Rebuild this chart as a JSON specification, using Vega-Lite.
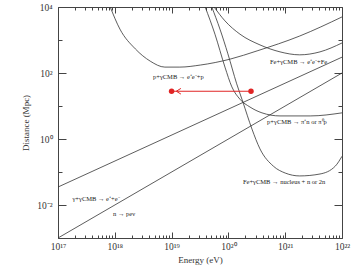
{
  "$schema": "https://vega.github.io/schema/vega-lite/v6.json",
  "width": 284,
  "height": 231,
  "autosize": "none",
  "padding": {"left": 58, "top": 7, "right": 12, "bottom": 27},
  "config": {
    "view": {"stroke": "#444", "strokeWidth": 1},
    "font": "Liberation Serif",
    "axis": {"labelFont": "Liberation Serif", "titleFont": "Liberation Serif", "titleFontWeight": "normal", "labelColor": "#333", "titleColor": "#333", "tickColor": "#444", "domain": false, "grid": false, "labelOverlap": false, "labelBound": false, "labelFlush": false}
  },
  "datasets": {
    "curves": [
      {"s": "p_ee", "E": 8.3e17, "D": 10000},
      {"s": "p_ee", "E": 1.23e18, "D": 2140},
      {"s": "p_ee", "E": 2.3e18, "D": 537},
      {"s": "p_ee", "E": 4.2e18, "D": 229},
      {"s": "p_ee", "E": 7.6e18, "D": 151},
      {"s": "p_ee", "E": 1.4e19, "D": 151},
      {"s": "p_ee", "E": 3.2e19, "D": 174},
      {"s": "p_ee", "E": 1.07e20, "D": 263},
      {"s": "p_ee", "E": 3.2e20, "D": 468},
      {"s": "p_ee", "E": 1.8e21, "D": 1320},
      {"s": "p_ee", "E": 1e22, "D": 5000},
      {"s": "fe_ee", "E": 5.6e19, "D": 10000},
      {"s": "fe_ee", "E": 8.7e19, "D": 3800},
      {"s": "fe_ee", "E": 1.6e20, "D": 1500},
      {"s": "fe_ee", "E": 3.6e20, "D": 710},
      {"s": "fe_ee", "E": 8.1e20, "D": 437},
      {"s": "fe_ee", "E": 1.8e21, "D": 355},
      {"s": "fe_ee", "E": 4.1e21, "D": 437},
      {"s": "fe_ee", "E": 1e22, "D": 813},
      {"s": "p_pi", "E": 3.9e19, "D": 10000},
      {"s": "p_pi", "E": 5.8e19, "D": 1500},
      {"s": "p_pi", "E": 8.7e19, "D": 151},
      {"s": "p_pi", "E": 1.15e20, "D": 38},
      {"s": "p_pi", "E": 1.6e20, "D": 16},
      {"s": "p_pi", "E": 2.4e20, "D": 9.3},
      {"s": "p_pi", "E": 3.9e20, "D": 6.2},
      {"s": "p_pi", "E": 8.1e20, "D": 5.0},
      {"s": "p_pi", "E": 2.75e21, "D": 5.0},
      {"s": "p_pi", "E": 1e22, "D": 6.2},
      {"s": "fe_dis", "E": 5.1e19, "D": 10000},
      {"s": "fe_dis", "E": 7.1e19, "D": 2140},
      {"s": "fe_dis", "E": 9.8e19, "D": 380},
      {"s": "fe_dis", "E": 1.4e20, "D": 47},
      {"s": "fe_dis", "E": 1.8e20, "D": 13.2},
      {"s": "fe_dis", "E": 2.6e20, "D": 2.0},
      {"s": "fe_dis", "E": 3.6e20, "D": 0.5},
      {"s": "fe_dis", "E": 6.2e20, "D": 0.15},
      {"s": "fe_dis", "E": 1e21, "D": 0.093},
      {"s": "fe_dis", "E": 1.8e21, "D": 0.076},
      {"s": "fe_dis", "E": 4.1e21, "D": 0.087},
      {"s": "fe_dis", "E": 7.6e21, "D": 0.15},
      {"s": "fe_dis", "E": 1e22, "D": 0.3},
      {"s": "gg", "E": 1e17, "D": 0.035},
      {"s": "gg", "E": 1e22, "D": 302},
      {"s": "n", "E": 1e17, "D": 0.001},
      {"s": "n", "E": 1e22, "D": 100}
    ],
    "labels": [
      {"t": "p+γCMB → e⁺e⁻+p", "E": 4.7e18, "D": 76},
      {"t": "Fe+γCMB → e⁺e⁻+Fe", "E": 5.4e20, "D": 214},
      {"t": "p+γCMB → π⁺n or π⁰p", "E": 4.8e20, "D": 3.3},
      {"t": "Fe+γCMB → nucleus + n or 2n", "E": 1.8e20, "D": 0.05},
      {"t": "γ+γCMB → e⁺+e⁻", "E": 1.8e17, "D": 0.015},
      {"t": "n → peν", "E": 9.3e17, "D": 0.0054}
    ],
    "arrow": [
      {"E": 1e19, "D": 28},
      {"E": 2.5e20, "D": 28}
    ],
    "head": [
      {"E": 1.3e19, "D": 28}
    ]
  },
  "layer": [
    {
      "data": {"name": "curves"},
      "mark": {"type": "line", "color": "#333", "strokeWidth": 0.8, "interpolate": "monotone", "clip": true},
      "encoding": {
        "x": {
          "field": "E", "type": "quantitative",
          "scale": {"type": "log", "domain": [1e17, 1e22], "nice": false},
          "axis": {
            "orient": "bottom",
            "title": "Energy (eV)", "titleFontSize": 9, "titlePadding": 2,
            "labelFontSize": 9.5, "labelPadding": 9,
            "values": [1e17,2e17,3e17,4e17,5e17,6e17,7e17,8e17,9e17,1e18,2e18,3e18,4e18,5e18,6e18,7e18,8e18,9e18,1e19,2e19,3e19,4e19,5e19,6e19,7e19,8e19,9e19,1e20,2e20,3e20,4e20,5e20,6e20,7e20,8e20,9e20,1e21,2e21,3e21,4e21,5e21,6e21,7e21,8e21,9e21,1e22],
            "tickSize": {"condition": {"test": "abs(log(datum.value)/LN10 - round(log(datum.value)/LN10)) < 0.01", "value": -6}, "value": -3},
            "labelExpr": "abs(log(datum.value)/LN10 - round(log(datum.value)/LN10)) > 0.01 ? '' : round(log(datum.value)/LN10) == 17 ? '10¹⁷' : round(log(datum.value)/LN10) == 18 ? '10¹⁸' : round(log(datum.value)/LN10) == 19 ? '10¹⁹' : round(log(datum.value)/LN10) == 20 ? '10²⁰' : round(log(datum.value)/LN10) == 21 ? '10²¹' : '10²²'"
          }
        },
        "y": {
          "field": "D", "type": "quantitative",
          "scale": {"type": "log", "domain": [0.001, 10000], "nice": false},
          "axis": {
            "orient": "left",
            "title": "Distance (Mpc)", "titleFontSize": 9, "titlePadding": 6,
            "labelFontSize": 9.5, "labelPadding": 14,
            "values": [0.001, 0.01, 0.1, 1, 10, 100, 1000, 10000],
            "tickSize": {"condition": {"test": "round(log(datum.value)/LN10) % 2 == 0", "value": -8}, "value": -4},
            "labelExpr": "round(log(datum.value)/LN10) == 4 ? '10⁴' : round(log(datum.value)/LN10) == 2 ? '10²' : round(log(datum.value)/LN10) == 0 ? '10⁰' : round(log(datum.value)/LN10) == -2 ? '10⁻²' : ''"
          }
        },
        "detail": {"field": "s", "type": "nominal"}
      }
    },
    {
      "data": {"name": "labels"},
      "mark": {"type": "text", "align": "left", "baseline": "middle", "fontSize": 6.5, "font": "Liberation Serif", "color": "#222"},
      "encoding": {
        "x": {
          "field": "E", "type": "quantitative",
          "axis": {
            "orient": "top", "title": null, "labels": false,
            "values": [1e17,2e17,3e17,4e17,5e17,6e17,7e17,8e17,9e17,1e18,2e18,3e18,4e18,5e18,6e18,7e18,8e18,9e18,1e19,2e19,3e19,4e19,5e19,6e19,7e19,8e19,9e19,1e20,2e20,3e20,4e20,5e20,6e20,7e20,8e20,9e20,1e21,2e21,3e21,4e21,5e21,6e21,7e21,8e21,9e21,1e22],
            "tickSize": {"condition": {"test": "abs(log(datum.value)/LN10 - round(log(datum.value)/LN10)) < 0.01", "value": -6}, "value": -3}
          }
        },
        "y": {
          "field": "D", "type": "quantitative",
          "axis": {
            "orient": "right", "title": null, "labels": false,
            "values": [0.001, 0.01, 0.1, 1, 10, 100, 1000, 10000],
            "tickSize": {"condition": {"test": "round(log(datum.value)/LN10) % 2 == 0", "value": -8}, "value": -4}
          }
        },
        "text": {"field": "t", "type": "nominal"}
      }
    },
    {
      "data": {"name": "arrow"},
      "mark": {"type": "line", "color": "#e02424", "strokeWidth": 1.2},
      "encoding": {
        "x": {"field": "E", "type": "quantitative", "axis": null},
        "y": {"field": "D", "type": "quantitative", "axis": null}
      }
    },
    {
      "data": {"name": "arrow"},
      "mark": {"type": "point", "filled": true, "color": "#e02424", "size": 30, "opacity": 1},
      "encoding": {
        "x": {"field": "E", "type": "quantitative", "axis": null},
        "y": {"field": "D", "type": "quantitative", "axis": null}
      }
    },
    {
      "data": {"name": "head"},
      "mark": {"type": "point", "filled": false, "shape": "M 0.8 -0.8 L -0.5 0 L 0.8 0.8", "color": "#e02424", "size": 50, "strokeWidth": 1, "opacity": 1},
      "encoding": {
        "x": {"field": "E", "type": "quantitative", "axis": null},
        "y": {"field": "D", "type": "quantitative", "axis": null}
      }
    }
  ],
  "resolve": {"axis": {"x": "independent", "y": "independent"}}
}
